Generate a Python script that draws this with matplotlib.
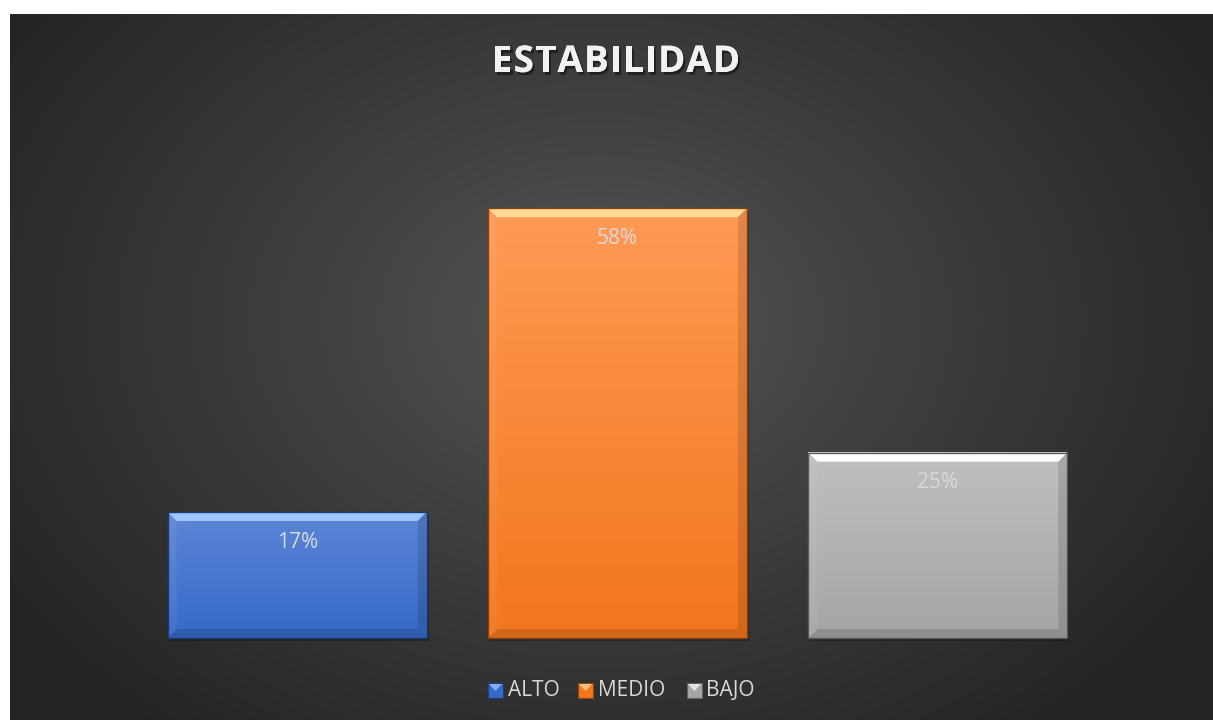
"""
Bar chart: ESTABILIDAD
"""
import numpy as np
import matplotlib
matplotlib.use("Agg")
import matplotlib.pyplot as plt
import matplotlib.patheffects as pe
from matplotlib.patches import Polygon, Rectangle
from matplotlib.colors import to_rgb

# Data
categories = ["ALTO", "MEDIO", "BAJO"]
values = [17, 58, 25]
labels = ["17%", "58%", "25%"]
top_colors = ["#5d86d6", "#ff9a55", "#bfbfbf"]
bottom_colors = ["#3569c9", "#f2761d", "#a5a5a5"]
title = "ESTABILIDAD"

W, H = 1213, 720
plt.rcParams["font.family"] = ["Open Sans", "DejaVu Sans"]

fig = plt.figure(figsize=(W / 100, H / 100), dpi=100)
fig.patch.set_facecolor("white")

# background panel with radial gradient
bg = fig.add_axes([0, 0, 1, 1])
bg.set_xlim(0, W)
bg.set_ylim(H, 0)
bg.axis("off")
yy, xx = np.mgrid[14:H, 10:W]
d = np.sqrt(((xx - 600) / 700.0) ** 2 + ((yy - 320) / 520.0) ** 2)
d = np.clip(d, 0, 1)
lum = 0.34 - (0.34 - 0.145) * d ** 0.9
img = np.dstack([lum, lum, lum])
bg.imshow(img, extent=(10, W, H, 14), aspect="auto", interpolation="bilinear", zorder=0)

# plot axes (pixel placement)
x0, x1 = 137, 1098
y_base, y_top = 638, 100
ax = fig.add_axes([x0 / W, 1 - y_base / H, (x1 - x0) / W, (y_base - y_top) / H])
ax.patch.set_alpha(0)
ax.axis("off")
ax.set_xlim(-0.5, 2.5)
ax.set_ylim(0, 72.6)

bars = ax.bar(range(len(categories)), values, width=0.808, color="none")
fig.canvas.draw()
renderer = fig.canvas.get_renderer()

for i, b in enumerate(bars):
    ext = b.get_window_extent()
    bx0, bx1 = ext.x0, ext.x1
    by0, by1 = H - ext.y1, H - ext.y0  # top, bottom in pixel coords (y down)
    c_top = np.array(to_rgb(top_colors[i]))
    c_bot = np.array(to_rgb(bottom_colors[i]))
    # drop shadow
    bg.add_patch(Rectangle((bx0 + 2, by0 + 3), bx1 - bx0, by1 - by0,
                           facecolor="black", alpha=0.3, zorder=1, lw=0))
    # vertical gradient body
    t = np.linspace(0, 1, 100)[:, None]
    grad = c_top[None, :] * (1 - t) + c_bot[None, :] * t
    grad = np.repeat(grad[:, None, :], 2, axis=1)
    bg.imshow(grad, extent=(bx0, bx1, by1, by0), aspect="auto", zorder=2,
              interpolation="bilinear")
    # bevel
    bv = 9
    light = np.clip(c_top + 0.25, 0, 1)
    bg.add_patch(Polygon([(bx0, by0), (bx1, by0), (bx1 - bv, by0 + bv), (bx0 + bv, by0 + bv)],
                         facecolor=light, lw=0, zorder=3))
    bg.add_patch(Polygon([(bx0, by1), (bx1, by1), (bx1 - bv, by1 - bv), (bx0 + bv, by1 - bv)],
                         facecolor="black", alpha=0.13, lw=0, zorder=3))
    bg.add_patch(Polygon([(bx0, by0), (bx0 + bv, by0 + bv), (bx0 + bv, by1 - bv), (bx0, by1)],
                         facecolor="white", lw=0, zorder=3, alpha=0.06))
    bg.add_patch(Polygon([(bx1, by0), (bx1 - bv, by0 + bv), (bx1 - bv, by1 - bv), (bx1, by1)],
                         facecolor="black", lw=0, zorder=3, alpha=0.12))
    bg.add_patch(Rectangle((bx0, by0), bx1 - bx0, by1 - by0, facecolor="none",
                           edgecolor=c_bot * 0.55, lw=1, zorder=4))
    # value label
    bg.text((bx0 + bx1) / 2, by0 + 30, labels[i], ha="center", va="center",
            color="#d9d9d9", fontsize=15, zorder=5)

# title, drawn letter by letter to get the wide tracking
title_kw = dict(color="#f2f2f2", fontsize=26.5, fontweight="bold", zorder=5, va="center",
                ha="left",
                path_effects=[pe.withSimplePatchShadow(offset=(1.5, -2), shadow_rgbFace="black",
                                                       alpha=0.45), pe.Normal()])
widths = []
for ch in title:
    tmp = bg.text(0, 0, ch, **title_kw)
    widths.append(tmp.get_window_extent(renderer).width)
    tmp.remove()
t_left, t_right = 492, 740
gap = (t_right - t_left - sum(widths)) / (len(title) - 1)
cx = t_left
for ch, w in zip(title, widths):
    bg.text(cx, 62, ch, **title_kw)
    cx += w + gap

# legend
sq_x = [488, 578, 687]
texts_x = [508, 598, 706]
for i, cat in enumerate(categories):
    c_top = np.array(to_rgb(top_colors[i]))
    c_bot = np.array(to_rgb(bottom_colors[i]))
    bg.add_patch(Rectangle((sq_x[i], 683), 15, 15, facecolor=c_bot,
                           edgecolor=c_bot * 0.6, lw=0.8, zorder=5))
    bg.add_patch(Polygon([(sq_x[i] + 1, 684), (sq_x[i] + 14, 684), (sq_x[i] + 7.5, 691)],
                         facecolor=np.clip(c_top + 0.15, 0, 1), lw=0, zorder=6))
    bg.text(texts_x[i], 690.5, cat, ha="left", va="center", color="#d9d9d9",
            fontsize=15, zorder=5)

fig.savefig("out.png", dpi=100, facecolor=fig.get_facecolor())
